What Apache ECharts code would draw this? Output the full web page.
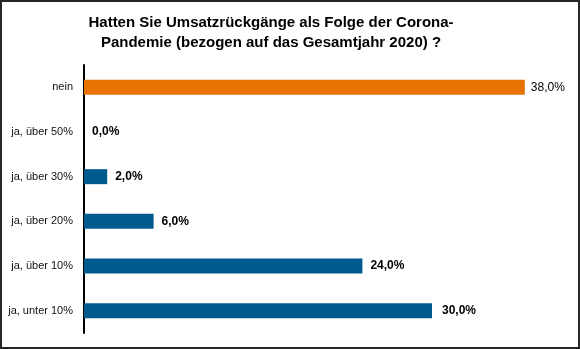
<!DOCTYPE html>
<html><head><meta charset="utf-8">
<script src="https://cdn.jsdelivr.net/npm/echarts@6/dist/echarts.min.js"></script>
<style>
html,body{margin:0;padding:0;background:#fff;}
#c{width:580px;height:349px;box-sizing:border-box;border:2px solid #262626;}
</style></head><body>
<div id="c"></div>
<script>
const categories = ["nein", "ja, über 50%", "ja, über 30%", "ja, über 20%", "ja, über 10%", "ja, unter 10%"];
const values = [38.0, 0.0, 2.0, 6.0, 24.0, 30.0];
const titleLines = ["Hatten Sie Umsatzrückgänge als Folge der Corona-", "Pandemie (bezogen auf das Gesamtjahr 2020) ?"];

const chart = echarts.init(document.getElementById('c'));
const data = values.map((v, i) => ({
  value: v,
  itemStyle: { color: i === 0 ? '#E87200' : '#005A8E' },
  label: { fontWeight: i === 0 ? 'normal' : 'bold', distance: i === 0 ? 6 : (i === 5 ? 10 : 8) }
}));
chart.setOption({
  animation: false,
  title: {
    text: titleLines.join('\n'),
    left: 264, top: 6, textAlign: 'center',
    textStyle: { fontFamily: 'Liberation Sans', fontSize: 15, fontWeight: 'bold', color: '#000', lineHeight: 20 }
  },
  grid: { left: 82, top: 63, width: 464, height: 268, containLabel: false },
  xAxis: {
    type: 'value', min: 0, max: 40, show: false
  },
  yAxis: {
    type: 'category', data: categories, inverse: true,
    axisLine: { show: true, lineStyle: { color: '#000', width: 2 } },
    axisTick: { show: false },
    axisLabel: { fontFamily: 'Liberation Sans', fontSize: 11, color: '#111', margin: 11 }
  },
  series: [{
    type: 'bar', data: data, barWidth: 15,
    label: {
      show: true, position: 'right',
      fontFamily: 'Liberation Sans', fontSize: 12, color: '#000',
      formatter: p => p.value.toFixed(1).replace('.', ',') + '%'
    }
  }]
});
</script>
</body></html>
